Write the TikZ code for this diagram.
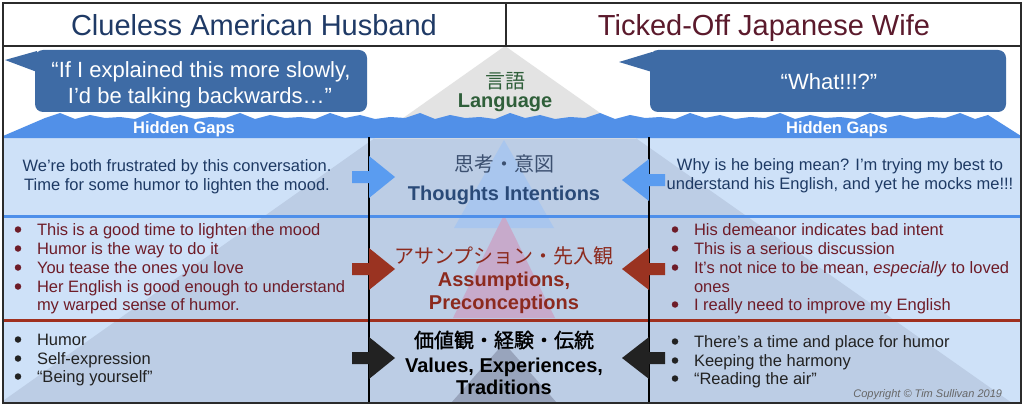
\documentclass[tikz,border=0pt]{standalone}
\usepackage{fontspec}
\setmainfont{Liberation Sans}
\newfontfamily\jp{Noto Sans CJK JP}
\newfontfamily\jpb{Noto Sans CJK JP}[FakeBold=1.5]
\definecolor{navyT}{HTML}{1F3A66}
\definecolor{maroonT}{HTML}{5B1A2C}
\definecolor{bubbleC}{HTML}{3E6BA5}
\definecolor{waterC}{HTML}{5190E8}
\definecolor{rowbg}{HTML}{CEE1F8}
\definecolor{iceU}{HTML}{BCCDE5}
\definecolor{iceA}{HTML}{E3E3E3}
\definecolor{triT}{HTML}{A9C6EE}
\definecolor{triA}{HTML}{C7AACB}
\definecolor{triV}{HTML}{98A4BC}
\definecolor{lineB}{HTML}{4E8FEA}
\definecolor{lineR}{HTML}{A0301F}
\definecolor{arrB}{HTML}{5A9CF0}
\definecolor{arrR}{HTML}{9A3321}
\definecolor{arrK}{HTML}{222222}
\definecolor{rowNavy}{HTML}{1E3A64}
\definecolor{thNavy}{HTML}{2A4A78}
\definecolor{thSlate}{HTML}{3C5070}
\definecolor{redC}{HTML}{8C2A1E}
\definecolor{listR}{HTML}{6E1C28}
\definecolor{listK}{HTML}{222222}
\definecolor{greenT}{HTML}{2F5F3A}
\definecolor{frameC}{HTML}{2B2B2B}
\definecolor{copyC}{HTML}{666666}
\tikzset{
  txt/.style={inner sep=0pt, outer sep=0pt},
  titletxt/.style={txt, font=\fontsize{29}{33}\selectfont},
  bubtxt/.style={txt, text=white, font=\fontsize{22}{25}\selectfont},
  gaptxt/.style={txt, text=white, font=\bfseries\fontsize{16.5}{19}\selectfont},
  body/.style={txt, font=\fontsize{16.5}{19}\selectfont},
  bul/.style={circle, inner sep=0pt, outer sep=0pt, minimum size=6.5pt},
  cjk/.style={txt, font=\jp\fontsize{20}{22}\selectfont},
  cjkb/.style={txt, font=\jpb\fontsize{20}{22}\selectfont},
  cbold/.style={txt, font=\bfseries\fontsize{20}{22}\selectfont},
  vline/.style={black, line width=1.5pt},
}
\newcommand\bitem[6]{% name, color, xbullet, xtext, y, text
  \node[bul, fill=#2] (#1b) at (#3,#5-5.5) {};
  \node[body, text=#2, anchor=base west] (#1) at (#4,#5) {#6};}
\newcommand\rarrow[2]{% color, center y
  \fill[#1] (352,#2-6) -- (369,#2-6) -- (369,#2-21) -- (395,#2) -- (369,#2+21) -- (369,#2+6) -- (352,#2+6) -- cycle;}
\newcommand\larrow[2]{%
  \fill[#1] (665,#2-6) -- (649,#2-6) -- (649,#2-21) -- (622,#2) -- (649,#2+21) -- (649,#2+6) -- (665,#2+6) -- cycle;}
\begin{document}
\begin{tikzpicture}[x=1pt,y=-1pt]
\useasboundingbox (0,0) rectangle (1024,409);
\fill[white] (0,0) rectangle (1024,409);
% rows background
\fill[rowbg] (3,136) rectangle (1021,403);
% iceberg
\coordinate (apex) at (505,46);
\coordinate (bl) at (0,403);
\coordinate (br) at (1012,403);
\begin{scope}
  \clip (3,136) rectangle (1021,403);
  \fill[iceU] (apex) -- (bl) -- (br) -- cycle;
\end{scope}
\begin{scope}
  \clip (3,46) rectangle (1021,138);
  \fill[iceA] (apex) -- (bl) -- (br) -- cycle;
\end{scope}
% small triangles
\fill[triT] (504,140) -- (454,228) -- (554,228) -- cycle;
\fill[triA] (504,215) -- (453,318) -- (555,318) -- cycle;
\fill[triV] (504,343) -- (451,403) -- (557,403) -- cycle;
% water
\fill[waterC] (3,138) -- (3,136) -- (45,118)
  \foreach \i in {0,...,30} { -- ({45+30*\i+15},{113+2*mod(\i,3)}) -- ({45+30*\i+30},{119-mod(\i,2)}) }
  -- (988,115) -- (1021,136) -- (1021,138) -- cycle;
% bubbles
\fill[bubbleC, rounded corners=8pt] (35,50) rectangle (367,112);
\fill[bubbleC] (37,51) -- (5,60) -- (37,72) -- cycle;
\fill[bubbleC, rounded corners=8pt] (650,50) rectangle (1006,112);
\fill[bubbleC] (652,52) -- (619,62) -- (652,72) -- cycle;
% lines
\draw[lineB, line width=3pt] (3,216) -- (1021,216);
\draw[lineR, line width=3pt] (3,320) -- (1021,320);
\draw[vline] (369,137) -- (369,403);
\draw[vline] (649,137) -- (649,403);
% arrows
\rarrow{arrB}{177}
\larrow{arrB}{180}
\rarrow{arrR}{269}
\larrow{arrR}{269}
\rarrow{arrK}{358}
\larrow{arrK}{358}
% titles
\node[titletxt, text=navyT, anchor=base] (t1) at (254,36) {Clueless American Husband};
\node[titletxt, text=maroonT, anchor=base] (t2) at (764,36) {Ticked-Off Japanese Wife};
% bubble texts
\node[bubtxt, anchor=base] (b1a) at (201,78) {“If I explained this more slowly,};
\node[bubtxt, anchor=base] (b1b) at (200,103) {I’d be talking backwards…”};
\node[bubtxt, anchor=base] (b2) at (829,90) {“What!!!?”};
% language
\node[cjk, text=greenT] (lgj) at (505,81) {言語};
\node[cbold, text=greenT, anchor=base] (lg) at (505,108) {Language};
% hidden gaps
\node[gaptxt, anchor=base] (hg1) at (184,133) {Hidden Gaps};
\node[gaptxt, anchor=base] (hg2) at (837,133) {Hidden Gaps};
% row 1
\node[body, text=rowNavy, anchor=base] (r1a) at (177,171) {We’re both frustrated by this conversation.};
\node[body, text=rowNavy, anchor=base] (r1b) at (177,190) {Time for some humor to lighten the mood.};
\node[body, text=rowNavy, anchor=base] (r1c) at (840,170) {Why is he being mean? I’m trying my best to};
\node[body, text=rowNavy, anchor=base] (r1d) at (840,189) {understand his English, and yet he mocks me!!!};
\node[cjk, text=thSlate] (thj) at (504,164) {思考・意図};
\node[cbold, text=thNavy, anchor=base] (th) at (504,200) {Thoughts Intentions};
% row 2
\node[cjk, text=redC] (asj) at (504,256) {アサンプション・先入観};
\node[cbold, text=redC, anchor=base] (as1) at (504,286) {Assumptions,};
\node[cbold, text=redC, anchor=base] (as2) at (504,309) {Preconceptions};
\bitem{la1}{listR}{18}{37}{235}{This is a good time to lighten the mood}
\bitem{la2}{listR}{18}{37}{254}{Humor is the way to do it}
\bitem{la3}{listR}{18}{37}{273}{You tease the ones you love}
\bitem{la4}{listR}{18}{37}{292}{Her English is good enough to understand}
\node[body, text=listR, anchor=base west] (la5) at (37,310) {my warped sense of humor.};
\bitem{ra1}{listR}{675}{694}{235}{His demeanor indicates bad intent}
\bitem{ra2}{listR}{675}{694}{254}{This is a serious discussion}
\bitem{ra3}{listR}{675}{694}{273}{It’s not nice to be mean, \textit{especially} to loved}
\node[body, text=listR, anchor=base west] (ra4) at (694,292) {ones};
\bitem{ra5}{listR}{675}{694}{310}{I really need to improve my English}
% row 3
\node[cjkb, text=black] (vaj) at (504,340) {価値観・経験・伝統};
\node[cbold, text=black, anchor=base] (va1) at (504,372) {Values, Experiences,};
\node[cbold, text=black, anchor=base] (va2) at (504,394) {Traditions};
\bitem{lv1}{listK}{18}{37}{345}{Humor}
\bitem{lv2}{listK}{18}{37}{364}{Self-expression}
\bitem{lv3}{listK}{18}{37}{382}{“Being yourself”}
\bitem{rv1}{listK}{675}{694}{347}{There’s a time and place for humor}
\bitem{rv2}{listK}{675}{694}{366}{Keeping the harmony}
\bitem{rv3}{listK}{675}{694}{384}{“Reading the air”}
\node[txt, anchor=base east, text=copyC, font=\itshape\fontsize{11}{13}\selectfont] (cp) at (1002,397) {Copyright © Tim Sullivan 2019};
% frame
\draw[frameC, line width=1.5pt] (3,46) -- (1021,46);
\draw[frameC, line width=1.5pt] (506,3) -- (506,46);
\draw[frameC, line width=2.5pt] (3,3) rectangle (1021,403);
\end{tikzpicture}
\end{document}
